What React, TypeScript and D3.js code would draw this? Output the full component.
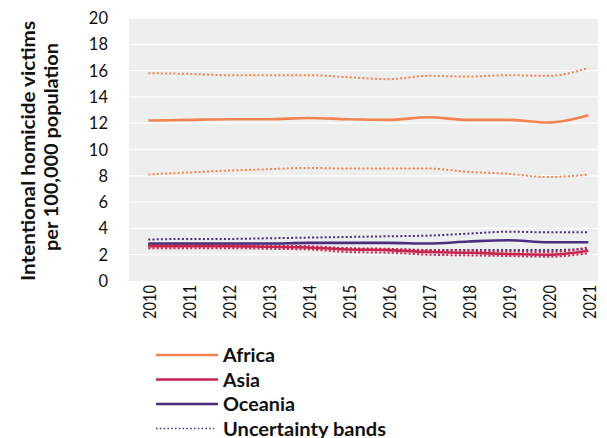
import React from "react";
import * as d3 from "d3";

const years = ["2010","2011","2012","2013","2014","2015","2016","2017","2018","2019","2020","2021"];
const yTicks = [0, 2, 4, 6, 8, 10, 12, 14, 16, 18, 20];

const africa = [12.2, 12.25, 12.3, 12.3, 12.4, 12.3, 12.25, 12.45, 12.25, 12.25, 12.05, 12.6];
const africaUpper = [15.8, 15.75, 15.65, 15.65, 15.65, 15.5, 15.35, 15.6, 15.55, 15.65, 15.6, 16.2];
const africaLower = [8.1, 8.25, 8.4, 8.5, 8.6, 8.55, 8.55, 8.55, 8.3, 8.15, 7.9, 8.1];

const asia = [2.65, 2.65, 2.65, 2.6, 2.55, 2.4, 2.35, 2.2, 2.15, 2.05, 2.0, 2.3];
const asiaUpper = [2.8, 2.8, 2.75, 2.7, 2.65, 2.5, 2.45, 2.35, 2.3, 2.25, 2.2, 2.55];
const asiaLower = [2.5, 2.5, 2.5, 2.45, 2.4, 2.2, 2.15, 2.0, 1.95, 1.9, 1.85, 2.1];

const oceania = [2.85, 2.85, 2.85, 2.85, 2.9, 2.9, 2.9, 2.85, 3.0, 3.1, 2.95, 2.95];
const oceaniaUpper = [3.15, 3.2, 3.2, 3.25, 3.3, 3.35, 3.4, 3.45, 3.6, 3.75, 3.7, 3.7];
const oceaniaLower = [2.7, 2.7, 2.65, 2.6, 2.55, 2.45, 2.4, 2.35, 2.35, 2.35, 2.35, 2.45];

const seriesNames = ["Africa", "Asia", "Oceania"];
const legendLabels = ["Africa", "Asia", "Oceania", "Uncertainty bands"];
const legendWidths = [52, 37, 72, 163];

const COLORS: Record<string, string> = {
  Africa: "#F3834F",
  Asia: "#C6254F",
  Oceania: "#4A2E7E",
};

const FONT = "Lato, 'Open Sans', sans-serif";

export default function App() {
  const W = 607, H = 438;
  const plotL = 129, plotR = 598, plotT = 18, plotB = 281;
  const x = d3.scalePoint<string>().domain(years).range([148.3, 588.3]);
  const y = d3.scaleLinear().domain([0, 20]).range([plotB, plotT]);
  const line = d3.line<number>().x((_, i) => x(years[i]) as number).y((d) => y(d)).curve(d3.curveMonotoneX);

  const data: Record<string, { main: number[]; up: number[]; lo: number[] }> = {
    Africa: { main: africa, up: africaUpper, lo: africaLower },
    Asia: { main: asia, up: asiaUpper, lo: asiaLower },
    Oceania: { main: oceania, up: oceaniaUpper, lo: oceaniaLower },
  };

  const drawOrder = ["Africa", "Oceania", "Asia"];

  return (
    <svg width={W} height={H} style={{ position: "absolute", left: 0, top: 0, background: "#fff" }}>
      <rect x={plotL} y={plotT} width={plotR - plotL} height={plotB - plotT} fill="#EDEEEE" />
      {yTicks.map((t) => (
        <g key={t}>
          {t > 0 && (
            <line x1={plotL} x2={plotR} y1={y(t)} y2={y(t)} stroke="#ffffff" strokeWidth={1.3} />
          )}
          <text x={108} y={y(t)} textAnchor="end" dominantBaseline="central" fontFamily={FONT} fontSize={16.5} fill="#111">
            {t}
          </text>
        </g>
      ))}
      {years.map((yr) => (
        <text
          key={yr}
          transform={`translate(${(x(yr) as number) + 1},${plotB + 4}) rotate(-90)`}
          textAnchor="end"
          dominantBaseline="central"
          fontFamily={FONT}
          fontSize={18}
          textLength={34}
          lengthAdjust="spacingAndGlyphs"
          fill="#111"
        >
          {yr}
        </text>
      ))}
      <text transform={`translate(27,151) rotate(-90)`} textAnchor="middle" dominantBaseline="central" fontFamily={FONT} fontWeight="bold" fontSize={19.5} textLength={260} lengthAdjust="spacingAndGlyphs" fill="#111">
        Intentional homicide victims
      </text>
      <text transform={`translate(50,147) rotate(-90)`} textAnchor="middle" dominantBaseline="central" fontFamily={FONT} fontWeight="bold" fontSize={19.5} textLength={208} lengthAdjust="spacingAndGlyphs" fill="#111">
        per 100,000 population
      </text>
      {drawOrder.map((name) => (
        <g key={name}>
          <path d={line(data[name].up) || ""} fill="none" stroke={COLORS[name]} strokeWidth={2} strokeDasharray="2,2.2" />
          <path d={line(data[name].lo) || ""} fill="none" stroke={COLORS[name]} strokeWidth={2} strokeDasharray="2,2.2" />
        </g>
      ))}
      {drawOrder.map((name) => (
        <path key={name} d={line(data[name].main) || ""} fill="none" stroke={COLORS[name]} strokeWidth={2.6} />
      ))}
      {legendLabels.map((lab, i) => {
        const ly = 355 + i * 24.5;
        const isBand = i === 3;
        const col = isBand ? COLORS.Oceania : COLORS[seriesNames[i]];
        return (
          <g key={lab}>
            <line x1={156} x2={isBand ? 214 : 218} y1={ly} y2={ly} stroke={col} strokeWidth={isBand ? 1.6 : 2.6} strokeDasharray={isBand ? "1.6,2.2" : undefined} />
            <text x={223} y={ly} dominantBaseline="central" fontFamily={FONT} fontWeight="bold" fontSize={18.5} textLength={legendWidths[i]} lengthAdjust="spacingAndGlyphs" fill="#111">
              {lab}
            </text>
          </g>
        );
      })}
    </svg>
  );
}
